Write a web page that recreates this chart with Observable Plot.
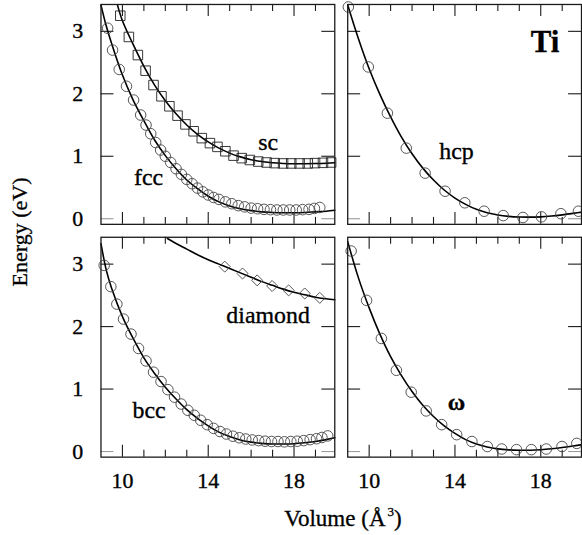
<!DOCTYPE html>
<html><head><meta charset="utf-8">
<script src="https://cdn.jsdelivr.net/npm/d3@7"></script>
<script src="https://cdn.jsdelivr.net/npm/@observablehq/plot@0.6"></script>
<style>
html,body{margin:0;padding:0;background:#fff;overflow:hidden;}
#wrap{position:relative;width:582px;height:535px;overflow:hidden;font-family:'Liberation Serif','Times New Roman',Times,serif;color:#000;}
#chart{position:absolute;left:0;top:0;}
.ylab{position:absolute;left:20px;top:232px;transform:translate(-50%,-50%) rotate(-90deg);font-size:22px;white-space:nowrap;-webkit-text-stroke:0.3px #000;}
.xlab{position:absolute;left:343px;top:517px;transform:translate(-50%,-50%);font-size:23px;white-space:nowrap;line-height:1;-webkit-text-stroke:0.3px #000;}
.xlab sup{font-size:13px;vertical-align:10px;margin-left:2px;}
svg text{font-family:'Liberation Serif','Times New Roman',Times,serif;stroke:#000;stroke-width:0.35px;}
</style></head>
<body>
<div id="wrap"><div id="chart"></div><div class="ylab">Energy (eV)</div><div class="xlab">Volume (Å<sup>3</sup>)</div></div>
<script>
// ---- data (volume in Å^3, energy in eV) ----
const fccV = [9.31, 9.54, 9.85, 10.19, 10.52, 10.85, 11.1, 11.32, 11.55, 11.78, 12.0, 12.25, 12.5, 12.75, 13.0, 13.25, 13.5, 13.75, 14.0, 14.25, 14.5, 14.8, 15.1, 15.4, 15.7, 16.0, 16.3, 16.6, 16.9, 17.2, 17.5, 17.8, 18.1, 18.4, 18.7, 18.95, 19.2];
const fccE = [3.05, 2.70, 2.39, 2.12, 1.90, 1.66, 1.50, 1.36, 1.22, 1.10, 1.00, 0.90, 0.80, 0.71, 0.63, 0.56, 0.49, 0.43, 0.38, 0.34, 0.31, 0.27, 0.24, 0.21, 0.19, 0.17, 0.16, 0.15, 0.145, 0.14, 0.14, 0.14, 0.14, 0.145, 0.15, 0.165, 0.18];
const fccFitV = [9.0, 9.25, 9.5, 10.0, 10.5, 11.0, 11.5, 12.0, 12.5, 13.0, 13.5, 14.0, 14.5, 15.0, 15.5, 16.0, 16.5, 17.0, 17.5, 18.0, 18.5, 19.0, 19.5, 19.9];
const fccFitE = [3.42, 3.08, 2.80, 2.30, 1.90, 1.57, 1.26, 1.01, 0.80, 0.62, 0.48, 0.36, 0.27, 0.205, 0.16, 0.13, 0.11, 0.10, 0.095, 0.095, 0.10, 0.11, 0.12, 0.135];

const scV = [9.9, 10.3, 10.72, 11.08, 11.45, 11.82, 12.19, 12.57, 12.94, 13.32, 13.7, 14.08, 14.43, 14.8, 15.18, 15.56, 15.94, 16.33, 16.72, 17.1, 17.49, 17.87, 18.26, 18.64, 18.98, 19.35, 19.73];
const scE = [3.25, 2.91, 2.62, 2.37, 2.14, 1.96, 1.80, 1.65, 1.51, 1.40, 1.29, 1.21, 1.15, 1.08, 1.01, 0.97, 0.94, 0.915, 0.90, 0.89, 0.885, 0.885, 0.885, 0.885, 0.89, 0.895, 0.90];
const scFitV = [9.77, 10.0, 10.5, 11.0, 11.5, 12.0, 12.5, 13.0, 13.5, 14.0, 14.5, 15.0, 15.5, 16.0, 16.5, 17.0, 17.5, 18.0, 18.5, 19.0, 19.5, 19.9];
const scFitE = [3.42, 3.17, 2.79, 2.44, 2.14, 1.89, 1.68, 1.50, 1.35, 1.23, 1.13, 1.05, 0.99, 0.945, 0.915, 0.895, 0.885, 0.88, 0.88, 0.883, 0.888, 0.895];

const hcpV = [9.03, 9.96, 10.85, 11.73, 12.61, 13.54, 14.46, 15.36, 16.25, 17.17, 18.03, 18.94, 19.76];
const hcpE = [3.39, 2.43, 1.69, 1.13, 0.73, 0.44, 0.255, 0.12, 0.05, 0.02, 0.03, 0.08, 0.12];
const hcpFitV = [9.0, 9.5, 10.0, 10.5, 11.0, 11.5, 12.0, 12.5, 13.0, 13.5, 14.0, 14.5, 15.0, 15.5, 16.0, 16.5, 17.0, 17.5, 18.0, 18.5, 19.0, 19.5, 20.0];
const hcpFitE = [3.42, 2.88, 2.40, 1.99, 1.63, 1.31, 1.04, 0.81, 0.62, 0.46, 0.33, 0.23, 0.15, 0.095, 0.06, 0.038, 0.027, 0.025, 0.03, 0.043, 0.062, 0.085, 0.11];

const bccV = [9.15, 9.46, 9.74, 10.05, 10.4, 10.75, 11.1, 11.45, 11.8, 12.12, 12.43, 12.74, 13.05, 13.35, 13.65, 13.95, 14.25, 14.55, 14.85, 15.15, 15.45, 15.75, 16.05, 16.35, 16.65, 16.95, 17.25, 17.55, 17.85, 18.15, 18.45, 18.75, 19.05, 19.3, 19.57];
const bccE = [2.98, 2.64, 2.36, 2.12, 1.88, 1.65, 1.45, 1.27, 1.12, 0.99, 0.87, 0.76, 0.66, 0.58, 0.50, 0.43, 0.37, 0.32, 0.28, 0.245, 0.22, 0.20, 0.185, 0.175, 0.165, 0.16, 0.16, 0.155, 0.16, 0.165, 0.175, 0.19, 0.205, 0.225, 0.25];
const bccFitV = [9.0, 9.25, 9.5, 10.0, 10.5, 11.0, 11.5, 12.0, 12.5, 13.0, 13.5, 14.0, 14.5, 15.0, 15.5, 16.0, 16.5, 17.0, 17.5, 18.0, 18.5, 19.0, 19.5, 19.9];
const bccFitE = [3.33, 2.90, 2.61, 2.16, 1.81, 1.50, 1.25, 1.03, 0.84, 0.67, 0.53, 0.41, 0.31, 0.24, 0.185, 0.15, 0.13, 0.12, 0.12, 0.125, 0.14, 0.16, 0.19, 0.22];

const diaV = [14.77, 15.6, 16.28, 16.98, 17.75, 18.5, 19.2];
const diaE = [2.96, 2.85, 2.74, 2.65, 2.58, 2.53, 2.46];
const diaFitV = [12.1, 12.5, 13.0, 13.5, 14.0, 14.5, 15.0, 15.5, 16.0, 16.5, 17.0, 17.5, 18.0, 18.5, 19.0, 19.5, 19.9];
const diaFitE = [3.41, 3.33, 3.24, 3.15, 3.07, 3.00, 2.93, 2.86, 2.79, 2.72, 2.66, 2.60, 2.55, 2.51, 2.47, 2.445, 2.43];

const omegaV = [9.16, 9.88, 10.57, 11.27, 11.96, 12.66, 13.38, 14.08, 14.79, 15.51, 16.18, 16.87, 17.56, 18.26, 18.99, 19.68];
const omegaE = [3.21, 2.42, 1.81, 1.30, 0.95, 0.65, 0.43, 0.27, 0.16, 0.08, 0.04, 0.03, 0.03, 0.04, 0.08, 0.13];
const omegaFitV = [9.0, 9.5, 10.0, 10.5, 11.0, 11.5, 12.0, 12.5, 13.0, 13.5, 14.0, 14.5, 15.0, 15.5, 16.0, 16.5, 17.0, 17.5, 18.0, 18.5, 19.0, 19.5, 20.0];
const omegaFitE = [3.36, 2.78, 2.30, 1.88, 1.52, 1.22, 0.96, 0.74, 0.56, 0.41, 0.29, 0.19, 0.12, 0.072, 0.042, 0.026, 0.02, 0.02, 0.028, 0.043, 0.063, 0.088, 0.115];

const xTickLabels = [10, 14, 18];
const xMinorTicks = [11, 12, 13, 15, 16, 17, 19];
const yTicks = [0, 1, 2, 3];

// labels: [text, volume, energy, col, row]
const curveLabels = [
  ["fcc", 11.22, 0.67, 0, 0],
  ["sc", 16.79, 1.22, 0, 0],
  ["hcp", 14.07, 1.08, 1, 0],
  ["diamond", 16.79, 2.18, 0, 1],
  ["bcc", 11.24, 0.66, 0, 1]
];
const omegaLabel = [["ω", 14.07, 0.79, 1, 1]];
const elementLabel = [["Ti", 18.2, 2.83, 1, 0]];

// ---- tables ----
const rows = (V, E, col, row, series) => V.map((v, i) => ({v, E: E[i], col, row, series}));
const circles = [
  ...rows(fccV, fccE, 0, 0, "fcc"),
  ...rows(hcpV, hcpE, 1, 0, "hcp"),
  ...rows(bccV, bccE, 0, 1, "bcc"),
  ...rows(omegaV, omegaE, 1, 1, "omega")
];
const squares = rows(scV, scE, 0, 0, "sc");
const diamonds = rows(diaV, diaE, 0, 1, "diamond");
const fits = [
  ...rows(fccFitV, fccFitE, 0, 0, "fcc"),
  ...rows(scFitV, scFitE, 0, 0, "sc"),
  ...rows(hcpFitV, hcpFitE, 1, 0, "hcp"),
  ...rows(bccFitV, bccFitE, 0, 1, "bcc"),
  ...rows(diaFitV, diaFitE, 0, 1, "diamond"),
  ...rows(omegaFitV, omegaFitE, 1, 1, "omega")
];
const lab = a => a.map(([t, v, E, col, row]) => ({t, v, E, col, row}));

const FW = 236, FH = 221;
const ink = "#1a1a1a";
const serif = "'Liberation Serif','Times New Roman',Times,serif";

const chart = Plot.plot({
  width: 585,
  height: 535,
  marginLeft: 100,
  marginRight: 0,
  marginTop: 4,
  marginBottom: 76,
  style: {fontFamily: serif, fontSize: "22px", color: "#000", background: "#fff", overflow: "visible"},
  fx: {paddingInner: 0.0522, paddingOuter: 0, axis: null},
  fy: {paddingInner: 0.0556, paddingOuter: 0, axis: null},
  x: {domain: [9, 19.9]},
  y: {domain: [-0.09, 3.43]},
  marks: [
    // inward tick marks
    Plot.ruleX(xTickLabels, {x: d => d, insetTop: FH - 12, stroke: ink, strokeWidth: 1.1}),
    Plot.ruleX(xMinorTicks, {x: d => d, insetTop: FH - 7, stroke: ink, strokeWidth: 1.1}),
    Plot.ruleX(xTickLabels, {x: d => d, insetBottom: FH - 12, stroke: ink, strokeWidth: 1.1}),
    Plot.ruleX(xMinorTicks, {x: d => d, insetBottom: FH - 7, stroke: ink, strokeWidth: 1.1}),
    Plot.ruleY(yTicks, {y: d => d, insetRight: FW - 14, stroke: d => d === 0 ? "#9a9a9a" : ink, strokeWidth: 1.1}),
    Plot.ruleY(yTicks, {y: d => d, insetLeft: FW - 14, stroke: d => d === 0 ? "#9a9a9a" : ink, strokeWidth: 1.1}),
    // fits
    Plot.line(fits, {x: "v", y: "E", z: "series", fx: "col", fy: "row", curve: "catmull-rom", stroke: "#000", strokeWidth: 1.6}),
    // computed points
    Plot.dot(circles, {x: "v", y: "E", fx: "col", fy: "row", symbol: "circle", r: 5.3, stroke: "#444", strokeWidth: 0.9, fill: "none"}),
    Plot.dot(squares, {x: "v", y: "E", fx: "col", fy: "row", symbol: "square", r: 5.4, stroke: "#222", strokeWidth: 0.9, fill: "none"}),
    Plot.dot(diamonds, {x: "v", y: "E", fx: "col", fy: "row", symbol: "diamond2", r: 5, stroke: "#444", strokeWidth: 0.9, fill: "none"}),
    // labels
    Plot.text(lab(curveLabels), {x: "v", y: "E", text: "t", fx: "col", fy: "row", fontSize: 24, fontFamily: serif, fill: "#000"}),
    Plot.text(lab(omegaLabel), {x: "v", y: "E", text: "t", fx: "col", fy: "row", fontSize: 24, fontFamily: serif, fontWeight: "bold", fill: "#000"}),
    Plot.text(lab(elementLabel), {x: "v", y: "E", text: "t", fx: "col", fy: "row", fontSize: 31, fontFamily: serif, fontWeight: "bold", fill: "#000"}),
    // axes
    Plot.axisX({anchor: "bottom", ticks: xTickLabels, tickFormat: d => String(d), tickSize: 0, tickPadding: 15, label: null, fontSize: 22, fontFamily: serif}),
    Plot.axisY({anchor: "left", ticks: yTicks, tickFormat: d => String(d), tickSize: 0, tickPadding: 18, label: null, fontSize: 22, fontFamily: serif}),
    Plot.frame({stroke: ink, strokeWidth: 1.3})
  ]
});
document.getElementById("chart").appendChild(chart);
</script>
</body></html>
